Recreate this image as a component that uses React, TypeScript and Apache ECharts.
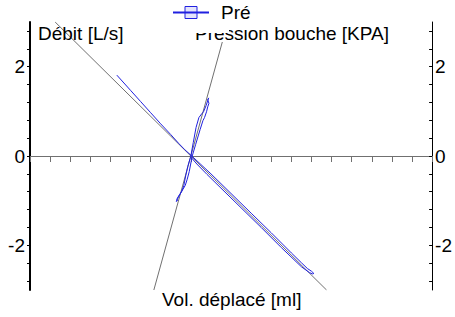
import React, { useEffect, useRef } from "react";
import * as echarts from "echarts";

// Reference (fit) lines
const debitRef: number[][] = [[-6.75, 3], [6.75, -3]];
const pressionRef: number[][] = [[-1.84, -3], [1.84, 3]];

// Measured loop following the Débit line
const debitCurve: number[][] = [
  [-3.68, 1.81], [-3.0, 1.47], [-2.5, 1.22], [-2.0, 0.97], [-1.5, 0.72],
  [-1.0, 0.48], [-0.6, 0.28], [-0.3, 0.14], [0.0, 0.02], [0.5, -0.19],
  [1.0, -0.40], [2.0, -0.84], [3.0, -1.28], [4.0, -1.72], [5.0, -2.17],
  [5.5, -2.39], [5.8, -2.52], [6.0, -2.58], [6.12, -2.63], [6.05, -2.64],
  [5.9, -2.61], [5.5, -2.48], [4.5, -2.05], [3.5, -1.60], [2.5, -1.16],
  [1.5, -0.72], [0.8, -0.41], [0.3, -0.18], [0.05, -0.05],
];

// Measured loop following the Pression line
const pressionCurve: number[][] = [
  [-0.69, -0.99], [-0.72, -1.02], [-0.66, -0.96], [-0.6, -0.9],
  [-0.52, -0.84], [-0.45, -0.79], [-0.35, -0.66], [-0.25, -0.43],
  [-0.15, -0.23], [0.0, 0.0], [0.12, 0.30], [0.26, 0.64], [0.4, 0.86],
  [0.55, 0.95], [0.63, 0.99], [0.76, 1.13], [0.84, 1.24], [0.89, 1.30],
  [0.84, 1.26], [0.9, 1.18], [0.84, 1.10], [0.78, 0.99], [0.68, 0.86],
  [0.6, 0.79], [0.46, 0.59], [0.24, 0.26], [0.07, 0.0], [-0.08, -0.35],
  [-0.18, -0.52], [-0.28, -0.66], [-0.4, -0.75], [-0.55, -0.86],
  [-0.64, -0.92], [-0.7, -0.97], [-0.67, -1.0],
];

const yLabelValues = [-2, 0, 2];
const yTickValues = [
  -2.8, -2.4, -2, -1.6, -1.2, -0.8, -0.4, 0, 0.4, 0.8, 1.2, 1.6, 2, 2.4, 2.8,
];
const seriesName = "Pré";
const titleDebit = "Débit [L/s]";
const titlePression = "Pression bouche [KPA]";
const titleVol = "Vol. déplacé [ml]";

const FONT = "'Liberation Sans', Arial, sans-serif";
const BLUE = "#2020e0";
const GRAY = "#707070";

export default function App() {
  const ref = useRef<HTMLDivElement>(null);
  useEffect(() => {
    if (!ref.current) return;
    const chart = echarts.init(ref.current, undefined, { renderer: "svg" });
    const yAxisCommon = {
      type: "value",
      min: -3,
      max: 3,
      splitLine: { show: false },
    };
    chart.setOption({
      animation: false,
      grid: { left: 30, right: 22, top: 22, bottom: 27, containLabel: false },
      legend: {
        data: [seriesName],
        left: 167,
        top: 0,
        padding: [3, 3, 7, 5],
        itemWidth: 36,
        itemHeight: 15,
        backgroundColor: "#ffffff",
        z: 10,
        itemStyle: {
          color: "rgba(32,32,224,0.12)",
          borderColor: BLUE,
          borderWidth: 1,
        },
        textStyle: {
          fontFamily: FONT,
          fontSize: 19,
          color: "#000",
          padding: [0, 0, 0, 7],
        },
        selectedMode: false,
      },
      xAxis: {
        type: "value",
        min: -8,
        max: 12,
        interval: 1,
        axisLine: { onZero: true, lineStyle: { color: GRAY, width: 1 } },
        axisTick: { show: true, length: 6, lineStyle: { color: GRAY } },
        axisLabel: { show: false },
        splitLine: { show: false },
      },
      yAxis: [
        {
          ...yAxisCommon,
          position: "left",
          axisLine: { show: true, onZero: false, lineStyle: { color: "#000", width: 2 } },
          axisTick: {
            show: true,
            length: 3,
            customValues: yTickValues,
            lineStyle: { color: "#000" },
          },
          axisLabel: {
            customValues: yLabelValues,
            margin: 5,
            fontFamily: FONT,
            fontSize: 19,
            color: "#000",
          },
        },
        {
          ...yAxisCommon,
          position: "right",
          axisLine: { show: true, onZero: false, lineStyle: { color: "#000", width: 1 } },
          axisTick: {
            show: true,
            inside: true,
            length: 3,
            customValues: yTickValues,
            lineStyle: { color: "#000" },
          },
          axisLabel: {
            customValues: yLabelValues,
            margin: 3,
            fontFamily: FONT,
            fontSize: 19,
            color: "#000",
          },
        },
      ],
      graphic: [
        {
          type: "text",
          left: 38,
          top: 24,
          z: 5,
          style: { text: titleDebit, font: `19px ${FONT}`, fill: "#000" },
        },
        {
          type: "rect",
          shape: { x: 193, y: 24, width: 200, height: 18 },
          z: 5,
          style: { fill: "#ffffff" },
        },
        {
          type: "text",
          left: 195,
          top: 24,
          z: 6,
          style: { text: titlePression, font: `19px ${FONT}`, fill: "#000" },
        },
        {
          type: "rect",
          shape: { x: 190, y: 20, width: 39, height: 13 },
          z: 7,
          style: { fill: "#ffffff" },
        },
        {
          type: "text",
          left: 162,
          top: 290,
          z: 5,
          style: { text: titleVol, font: `19px ${FONT}`, fill: "#000" },
        },
      ],
      series: [
        {
          type: "line",
          name: "refDebit",
          data: debitRef,
          showSymbol: false,
          silent: true,
          lineStyle: { color: GRAY, width: 1 },
          z: 1,
        },
        {
          type: "line",
          name: "refPression",
          data: pressionRef,
          showSymbol: false,
          silent: true,
          lineStyle: { color: GRAY, width: 1 },
          z: 1,
        },
        {
          type: "line",
          name: seriesName,
          data: debitCurve,
          symbol: "rect",
          showSymbol: false,
          lineStyle: { color: BLUE, width: 1 },
          itemStyle: { color: BLUE },
          z: 2,
        },
        {
          type: "line",
          name: seriesName,
          data: pressionCurve,
          symbol: "rect",
          showSymbol: false,
          lineStyle: { color: BLUE, width: 1 },
          itemStyle: { color: BLUE },
          z: 2,
        },
      ],
    });
    return () => chart.dispose();
  }, []);
  return <div ref={ref} style={{ width: 455, height: 317, position: "absolute", left: 0, top: 0 }} />;
}
